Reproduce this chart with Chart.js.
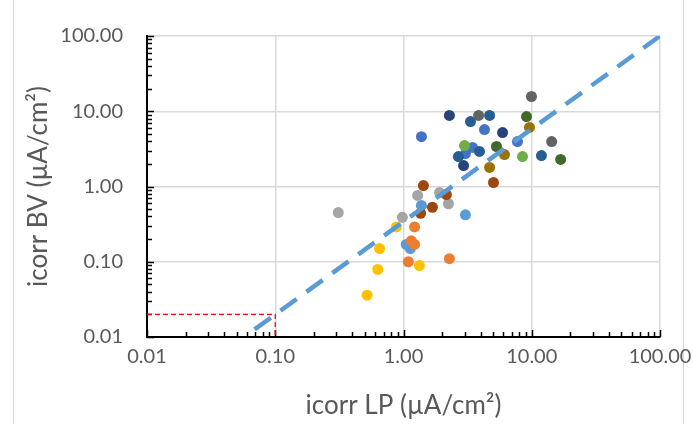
<!DOCTYPE html>
<html>
<head>
<meta charset="utf-8">
<script src="https://cdn.jsdelivr.net/npm/chart.js@4.4.1/dist/chart.umd.min.js"></script>
<style>
  body { margin: 0; background: #fff; }
  #wrap { position: relative; width: 693px; height: 424px; overflow: hidden; }
  #frame { position: absolute; left: 13px; top: -2px; width: 669px; height: 430px; border: 1px solid #d9d9d9; }
  canvas { position: absolute; left: 0; top: 0; }
</style>
</head>
<body>
<div id="wrap">
  <div id="frame"></div>
  <canvas id="chart" width="693" height="424"></canvas>
</div>
<script>
// axis ticks (both axes are log, 0.01 .. 100)
const tickValues = [0.01, 0.1, 1, 10, 100];
const tickLabels = ["0.01", "0.10", "1.00", "10.00", "100.00"];

// icorr LP (x) vs icorr BV (y), one pair of arrays per series
const s1x = [1.38, 3.04, 1.05, 1.13];
const s1y = [0.56, 0.42, 0.17, 0.15];
const s2x = [1.22, 1.15, 1.22, 1.09, 2.28];
const s2y = [0.29, 0.19, 0.17, 0.10, 0.11];
const s3x = [0.31, 0.98, 1.29, 1.91, 2.24];
const s3y = [0.45, 0.39, 0.76, 0.83, 0.59];
const s4x = [0.88, 0.65, 0.63, 0.52, 1.33];
const s4y = [0.29, 0.15, 0.079, 0.036, 0.089];
const s5x = [1.38, 4.28, 3.45, 3.04, 7.74];
const s5y = [4.6, 5.7, 3.3, 2.74, 3.96];
const s6x = [2.99, 8.47];
const s6y = [3.5, 2.5];
const s7x = [3.33, 4.69, 2.68, 3.91, 11.9];
const s7y = [7.3, 8.8, 2.5, 2.92, 2.58];
const s8x = [1.43, 2.16, 1.68, 1.36, 5.03];
const s8y = [1.03, 0.78, 0.53, 0.44, 1.13];
const s9x = [3.85, 9.95, 14.3];
const s9y = [8.8, 15.7, 3.96];
const s10x = [9.6, 6.13, 4.69];
const s10y = [6.1, 2.66, 1.79];
const s11x = [2.28, 5.92, 2.94];
const s11y = [8.8, 5.2, 1.9];
const s12x = [9.1, 5.31, 16.8];
const s12y = [8.5, 3.4, 2.29];

// dashed trend line ends
const trendX = [0.069, 100];
const trendY = [0.0126, 100];

// red limit box
const limitX = [0.01, 0.1, 0.1];
const limitY = [0.02, 0.02, 0.01];

const seriesX = [s1x, s2x, s3x, s4x, s5x, s6x, s7x, s8x, s9x, s10x, s11x, s12x];
const seriesY = [s1y, s2y, s3y, s4y, s5y, s6y, s7y, s8y, s9y, s10y, s11y, s12y];
const palette = ["#5B9BD5", "#ED7D31", "#A5A5A5", "#FFC000", "#4472C4", "#70AD47",
                 "#255E91", "#9E480E", "#636363", "#997300", "#264478", "#43682B"];

const toPoints = (xs, ys) => xs.map((x, i) => ({ x: x, y: ys[i] }));

const datasets = seriesX.map((xs, i) => ({
  label: "Series " + (i + 1),
  data: toPoints(xs, seriesY[i]),
  backgroundColor: palette[i],
  borderColor: palette[i],
  borderWidth: 0,
  pointRadius: 5.5,
  order: -i,
}));

datasets.push({
  type: "line",
  label: "trend",
  data: toPoints(trendX, trendY),
  borderColor: "#5B9BD5",
  borderWidth: 4.5,
  borderDash: [20, 12],
  pointRadius: 0,
  fill: false,
  order: -20,
});

datasets.push({
  type: "line",
  label: "limit",
  data: toPoints(limitX, limitY),
  borderColor: "#FF0000",
  borderWidth: 1.3,
  borderDash: [5, 3],
  pointRadius: 0,
  fill: false,
  order: -21,
});

// small inside tick marks like the Excel axes
const insideTicks = {
  id: "insideTicks",
  beforeDatasetsDraw(chart) {
    const ctx = chart.ctx;
    const xs = chart.scales.x, ys = chart.scales.y;
    const area = chart.chartArea;
    ctx.save();
    ctx.strokeStyle = "#000";
    ctx.lineWidth = 1.5;
    for (let d = -2; d <= 2; d++) {
      for (let m = 1; m <= 9; m++) {
        const v = m * Math.pow(10, d);
        if (v > 100.0001) continue;
        const len = m === 1 ? 7 : 5;
        const px = Math.round(xs.getPixelForValue(v)) + 0.5;
        const py = Math.round(ys.getPixelForValue(v)) + 0.5;
        ctx.beginPath();
        ctx.moveTo(px, area.bottom);
        ctx.lineTo(px, area.bottom - len);
        ctx.moveTo(area.left, py);
        ctx.lineTo(area.left + len, py);
        ctx.stroke();
      }
    }
    ctx.restore();
  },
};

const textColor = "#595959";
const font = "Lato";

function logAxis(title, titlePad) {
  return {
    type: "logarithmic",
    min: 0.01,
    max: 100,
    afterBuildTicks: (scale) => {
      scale.ticks = tickValues.map((v) => ({ value: v }));
    },
    ticks: {
      color: textColor,
      font: { family: font, size: 20 },
      autoSkip: false,
      maxRotation: 0,
      callback: (value) => tickLabels[tickValues.indexOf(value)],
    },
    grid: { color: "#D9D9D9", lineWidth: 1.5, drawTicks: false },
    border: { display: true, color: "#000", width: 2 },
    title: {
      display: true,
      text: title,
      color: textColor,
      font: { family: font, size: 26 },
      padding: titlePad,
    },
  };
}

const xAxis = logAxis("icorr LP (\u00B5A/cm\u00B2)", { top: 0, bottom: 3 });
xAxis.ticks.padding = 8;
xAxis.afterFit = (scale) => {
  scale.height = 87;
  scale.paddingLeft = 0;
  scale.paddingRight = 0;
};

const yAxis = logAxis("icorr BV (\u00B5A/cm\u00B2)", { top: 23, bottom: 0 });
yAxis.ticks.padding = 24;
yAxis.afterFit = (scale) => {
  scale.width = 147;
  scale.paddingTop = 0;
  scale.paddingBottom = 0;
};

new Chart(document.getElementById("chart"), {
  type: "scatter",
  data: { datasets: datasets },
  options: {
    responsive: false,
    devicePixelRatio: 1,
    animation: false,
    layout: { padding: { left: 0, right: 33, top: 36, bottom: 0 } },
    plugins: {
      legend: { display: false },
      tooltip: { enabled: false },
    },
    scales: { x: xAxis, y: yAxis },
  },
  plugins: [insideTicks],
});
</script>
</body>
</html>
